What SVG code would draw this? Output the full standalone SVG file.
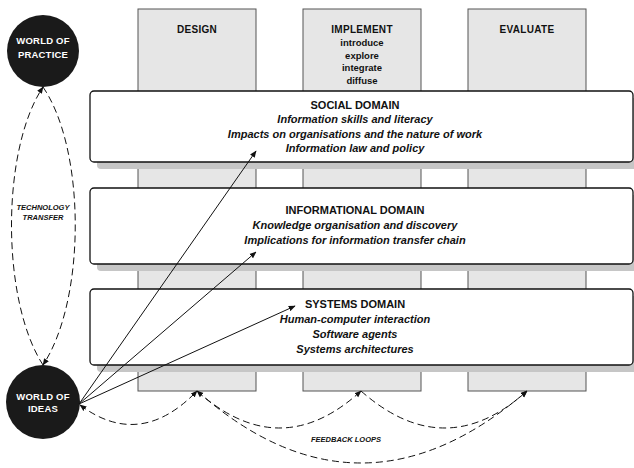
<svg xmlns="http://www.w3.org/2000/svg" width="634" height="468" viewBox="0 0 634 468">
<style>
.col{fill:#e6e6e6;stroke:#555;stroke-width:1}
.shadow{fill:#c6c6c6}
.box{fill:#fff;stroke:#111;stroke-width:1.3}
.t{font-family:"Liberation Sans",Arial,sans-serif;font-weight:bold;fill:#111;text-anchor:middle}
.hd{font-size:10px;letter-spacing:0.3px}
.sub{font-size:9.5px}
.dt{font-size:11px}
.it{font-size:11px;font-style:italic}
.ct{font-family:"Liberation Sans",Arial,sans-serif;font-weight:bold;font-size:9.5px;fill:#fff;text-anchor:middle;letter-spacing:0.2px}
.sm{font-size:7.5px;font-style:italic}
.circ{fill:#1a1a1a}
.dash{fill:none;stroke:#111;stroke-width:1;stroke-dasharray:7 4}
.solid{fill:none;stroke:#111;stroke-width:1}
</style>
<defs>
<marker id="ah" viewBox="0 0 10 10" refX="9" refY="5" markerWidth="7" markerHeight="7" markerUnits="userSpaceOnUse" orient="auto-start-reverse">
<path d="M0,1 L10,5 L0,9 Z" fill="#111"/>
</marker>
</defs>
<g id="col-design"><rect class="col" x="138" y="9" width="118" height="382"/><text class="t hd" x="197" y="33">DESIGN</text></g>
<g id="col-implement"><rect class="col" x="303" y="9" width="118" height="382"/>
<text class="t hd" x="362" y="33">IMPLEMENT</text>
<text class="t sub" x="362" y="46">introduce</text>
<text class="t sub" x="362" y="58.5">explore</text>
<text class="t sub" x="362" y="71">integrate</text>
<text class="t sub" x="362" y="83.5">diffuse</text></g>
<g id="col-evaluate"><rect class="col" x="468" y="9" width="118" height="382"/><text class="t hd" x="527" y="33">EVALUATE</text></g>
<g id="social-domain">
<rect class="shadow" x="97" y="98" width="545" height="71" rx="4"/>
<rect class="box" x="90" y="91" width="543" height="71" rx="4"/>
<text class="t dt" x="355" y="108.5">SOCIAL DOMAIN</text>
<text class="t it" x="355" y="123">Information skills and literacy</text>
<text class="t it" x="355" y="137.5">Impacts on organisations and the nature of work</text>
<text class="t it" x="355" y="152">Information law and policy</text>
</g>
<g id="informational-domain">
<rect class="shadow" x="97" y="195" width="545" height="76" rx="4"/>
<rect class="box" x="90" y="188" width="543" height="76" rx="4"/>
<text class="t dt" x="355" y="214">INFORMATIONAL DOMAIN</text>
<text class="t it" x="355" y="229">Knowledge organisation and discovery</text>
<text class="t it" x="355" y="244">Implications for information transfer chain</text>
</g>
<g id="systems-domain">
<rect class="shadow" x="97" y="296" width="545" height="76" rx="4"/>
<rect class="box" x="90" y="289" width="543" height="76" rx="4"/>
<text class="t dt" x="355" y="307.5">SYSTEMS DOMAIN</text>
<text class="t it" x="355" y="323">Human-computer interaction</text>
<text class="t it" x="355" y="338">Software agents</text>
<text class="t it" x="355" y="353">Systems architectures</text>
</g>
<g id="world-of-practice"><circle class="circ" cx="43" cy="51" r="36"/>
<text class="ct" x="43" y="44">WORLD OF</text><text class="ct" x="43" y="57.5">PRACTICE</text></g>
<g id="world-of-ideas"><circle class="circ" cx="43" cy="402" r="37"/>
<text class="ct" x="43" y="400">WORLD OF</text><text class="ct" x="43" y="412">IDEAS</text></g>
<g id="connectors">
<path class="dash" d="M43,365 C1,300 1,150 43,87" marker-end="url(#ah)"/>
<path class="dash" d="M43,87 C86,150 86,300 43,365" marker-end="url(#ah)"/>
<line class="solid" x1="79" y1="404" x2="256" y2="151" marker-end="url(#ah)"/>
<line class="solid" x1="79" y1="404" x2="256" y2="252" marker-end="url(#ah)"/>
<line class="solid" x1="79" y1="404" x2="295" y2="306" marker-end="url(#ah)"/>
<path class="dash" d="M80,405 Q140,450 197,391" marker-start="url(#ah)" marker-end="url(#ah)"/>
<path class="dash" d="M197,391 Q280,465 361,391" marker-start="url(#ah)" marker-end="url(#ah)"/>
<path class="dash" d="M361,391 Q445,465 527,391" marker-end="url(#ah)"/>
<path class="dash" d="M197,391 Q360,535 527,391" marker-end="url(#ah)"/>
<text class="t sm" x="346" y="442">FEEDBACK LOOPS</text>
<text class="t sm" x="43" y="210">TECHNOLOGY</text>
<text class="t sm" x="43" y="219.5">TRANSFER</text>
</g>
</svg>
